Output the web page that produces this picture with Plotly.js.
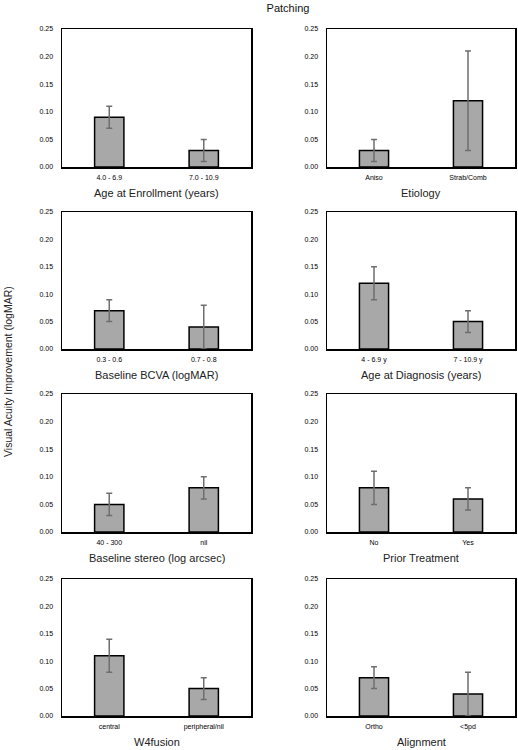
<!DOCTYPE html>
<html>
<head>
<meta charset="utf-8">
<script src="https://cdn.plot.ly/plotly-3.0.1.min.js"></script>
<style>html,body{margin:0;padding:0;background:#fff}#chart{width:518px;height:750px}</style>
</head>
<body>
<div id="chart"></div>
<script>
// ---- data ----
const panelTitles = ["Age at Enrollment (years)", "Etiology", "Baseline BCVA (logMAR)", "Age at Diagnosis (years)",
  "Baseline stereo (log arcsec)", "Prior Treatment", "W4fusion", "Alignment"];
const categories = [
  ["4.0 - 6.9", "7.0 - 10.9"],
  ["Aniso", "Strab/Comb"],
  ["0.3 - 0.6", "0.7 - 0.8"],
  ["4 - 6.9 y", "7 - 10.9 y"],
  ["40 - 300", "nil"],
  ["No", "Yes"],
  ["central", "peripheral/nil"],
  ["Ortho", "<5pd"]
];
const improvement = [
  [0.09, 0.03],
  [0.03, 0.12],
  [0.07, 0.04],
  [0.12, 0.05],
  [0.05, 0.08],
  [0.08, 0.06],
  [0.11, 0.05],
  [0.07, 0.04]
];
const errorHalf = [
  [0.02, 0.02],
  [0.02, 0.09],
  [0.02, 0.04],
  [0.03, 0.02],
  [0.02, 0.02],
  [0.03, 0.02],
  [0.03, 0.02],
  [0.02, 0.04]
];
const yTicks = [0, 0.05, 0.10, 0.15, 0.20, 0.25];

// ---- layout geometry (pixels) ----
const W = 518, H = 750;
const colX = [[62, 251], [327, 515]];
const rowY = [[29, 167], [212, 349], [394, 532], [579, 716]];
const FONT = "Liberation Sans, Arial, sans-serif";

const traces = [];
const layout = {
  width: W, height: H,
  margin: {l: 0, r: 0, t: 0, b: 0},
  paper_bgcolor: "#fff", plot_bgcolor: "#fff",
  showlegend: false,
  font: {family: FONT, color: "#000"},
  title: {text: "Patching", font: {size: 11, color: "#111", family: FONT},
          x: 288 / W, xanchor: "center", xref: "paper", y: 1 - 8 / H, yanchor: "middle", yref: "container"},
  annotations: [{
    text: "Visual Acuity Improvement (logMAR)", textangle: -90,
    x: 8 / W, y: 1 - 372 / H, xref: "paper", yref: "paper",
    xanchor: "center", yanchor: "middle", showarrow: false,
    font: {size: 10.5, color: "#222", family: FONT}
  }]
};

for (let i = 0; i < 8; i++) {
  const r = Math.floor(i / 2), c = i % 2;
  const ax = i === 0 ? "" : String(i + 1);
  traces.push({
    type: "bar",
    x: [0, 1],
    y: improvement[i],
    width: 0.31,
    marker: {color: "#a8a8a8", line: {color: "#000", width: 1.5}},
    error_y: {type: "data", array: errorHalf[i], visible: true, color: "#6e6e6e", thickness: 1.5, width: 3},
    xaxis: "x" + ax, yaxis: "y" + ax,
    hoverinfo: "none"
  });
  layout["xaxis" + ax] = {
    domain: [colX[c][0] / W, colX[c][1] / W],
    anchor: "y" + ax,
    range: [-0.5, 1.5],
    tickmode: "array", tickvals: [0, 1], ticktext: categories[i],
    ticks: "", ticklabelstandoff: 3,
    tickfont: {size: 7, color: "#000", family: FONT},
    showline: true, mirror: true, linecolor: "#000", linewidth: 1.5,
    showgrid: false, zeroline: false, fixedrange: true
  };
  layout["yaxis" + ax] = {
    domain: [1 - rowY[r][1] / H, 1 - rowY[r][0] / H],
    anchor: "x" + ax,
    range: [0, 0.25],
    tickmode: "array", tickvals: yTicks, ticktext: yTicks.map(v => v.toFixed(2)),
    ticks: "", ticklabelstandoff: 6,
    tickfont: {size: 7, color: "#000", family: FONT},
    showline: true, mirror: true, linecolor: "#000", linewidth: 1.5,
    showgrid: false, zeroline: false, fixedrange: true
  };
  layout.annotations.push({
    text: panelTitles[i],
    x: (colX[c][0] + colX[c][1]) / 2 / W, y: 1 - (rowY[r][1] + 26) / H,
    xref: "paper", yref: "paper", xanchor: "center", yanchor: "middle",
    showarrow: false, font: {size: 11, color: "#222", family: FONT}
  });
}

Plotly.newPlot("chart", traces, layout, {displayModeBar: false, staticPlot: true});
</script>
</body>
</html>
